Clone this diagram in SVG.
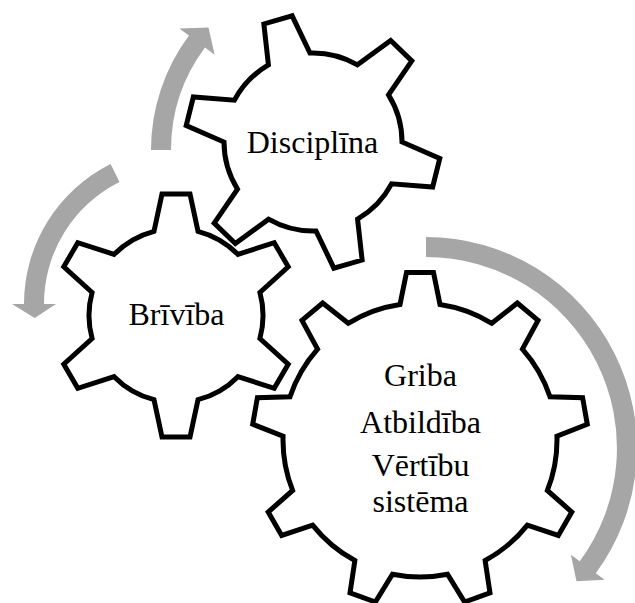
<svg xmlns="http://www.w3.org/2000/svg" width="635" height="603" viewBox="0 0 635 603">
<style>
.gear{fill:#ffffff;stroke:#000000;stroke-width:5;stroke-linejoin:miter}
.arrow{fill:#a6a6a6;stroke:none}
.lbl{font-family:"Liberation Serif","Times New Roman",serif;font-size:32px;fill:#000000;text-anchor:middle}
</style>
<rect width="635" height="603" fill="#ffffff"/>
<g id="connectors">
<path class="arrow" d="M 151,150 A 191.5 191.5 0 0 1 189.0,35.6 L 179.3,28.4 L 208.5,27.6 L 214.6,54.7 L 205.0,47.5 A 171.5 171.5 0 0 0 171,150 Z"/>
<path class="arrow" d="M 110.6,164.0 A 156.4 156.4 0 0 0 24.0,304 L 12.0,304 L 34.7,318 L 56.0,304 L 44.0,304 A 136.4 136.4 0 0 1 119.5,181.9 Z"/>
<path class="arrow" d="M 426,237 A 211 211 0 0 1 595.8,573.2 L 604.7,579.7 L 576.5,581.2 L 570.9,554.8 L 579.7,561.3 A 191 191 0 0 0 426,257 Z"/>
</g>
<g id="gear-disciplina">
<path class="gear" d="M 268.44,64.95 L 263.87,23.96 L 292.13,15.86 L 309.96,53.05 A 89 89 0 0 1 357.44,64.88 L 390.66,40.44 L 411.80,60.86 L 388.52,94.90 A 89 89 0 0 1 402.01,141.93 L 439.79,158.46 L 432.67,186.98 L 391.55,183.85 A 89 89 0 0 1 357.56,219.05 L 362.13,260.04 L 333.87,268.14 L 316.04,230.95 A 89 89 0 0 1 268.56,219.12 L 235.34,243.56 L 214.20,223.14 L 237.48,189.10 A 89 89 0 0 1 223.99,142.07 L 186.21,125.54 L 193.33,97.02 L 234.45,100.15 A 89 89 0 0 1 268.44,64.95 Z"/>
<text class="lbl" x="312.5" y="153">Disciplīna</text>
</g>
<g id="gear-briviba">
<path class="gear" d="M 154,231.33 L 162,194 L 190,194 L 198,231.33 A 87 87 0 0 1 237.89,254.36 L 274.22,242.63 L 288.22,266.87 L 259.89,292.46 A 87 87 0 0 1 259.89,338.54 L 288.22,364.13 L 274.22,388.37 L 237.89,376.64 A 87 87 0 0 1 198,399.67 L 190,437 L 162,437 L 154,399.67 A 87 87 0 0 1 114.11,376.64 L 77.78,388.37 L 63.78,364.13 L 92.11,338.54 A 87 87 0 0 1 92.11,292.46 L 63.78,266.87 L 77.78,242.63 L 114.11,254.36 A 87 87 0 0 1 154,231.33 Z"/>
<text class="lbl" x="176.5" y="325">Brīvība</text>
</g>
<g id="gear-griba">
<path class="gear" d="M 400,304.47 L 406.5,272.5 L 433.5,272.5 L 440,304.47 A 137 137 0 0 1 491.80,323.32 L 517.33,303.01 L 538.01,320.37 L 522.44,349.04 A 137 137 0 0 1 550.00,396.77 L 582.61,397.63 L 587.29,424.21 L 556.94,436.17 A 137 137 0 0 1 547.37,490.45 L 571.81,512.06 L 558.31,535.44 L 527.37,525.09 A 137 137 0 0 1 485.14,560.52 L 489.98,592.78 L 464.60,602.02 L 447.56,574.20 A 137 137 0 0 1 392.44,574.20 L 375.40,602.02 L 350.02,592.78 L 354.86,560.52 A 137 137 0 0 1 312.63,525.09 L 281.69,535.44 L 268.19,512.06 L 292.63,490.45 A 137 137 0 0 1 283.06,436.17 L 252.71,424.21 L 257.39,397.63 L 290.00,396.77 A 137 137 0 0 1 317.56,349.04 L 301.99,320.37 L 322.67,303.01 L 348.20,323.32 A 137 137 0 0 1 400,304.47 Z"/>
<text class="lbl" x="420.5" y="386">Griba</text>
<text class="lbl" x="420.5" y="432.5">Atbildība</text>
<text class="lbl" x="420.5" y="476">Vērtību</text>
<text class="lbl" x="420.5" y="511.5">sistēma</text>
</g>
</svg>
